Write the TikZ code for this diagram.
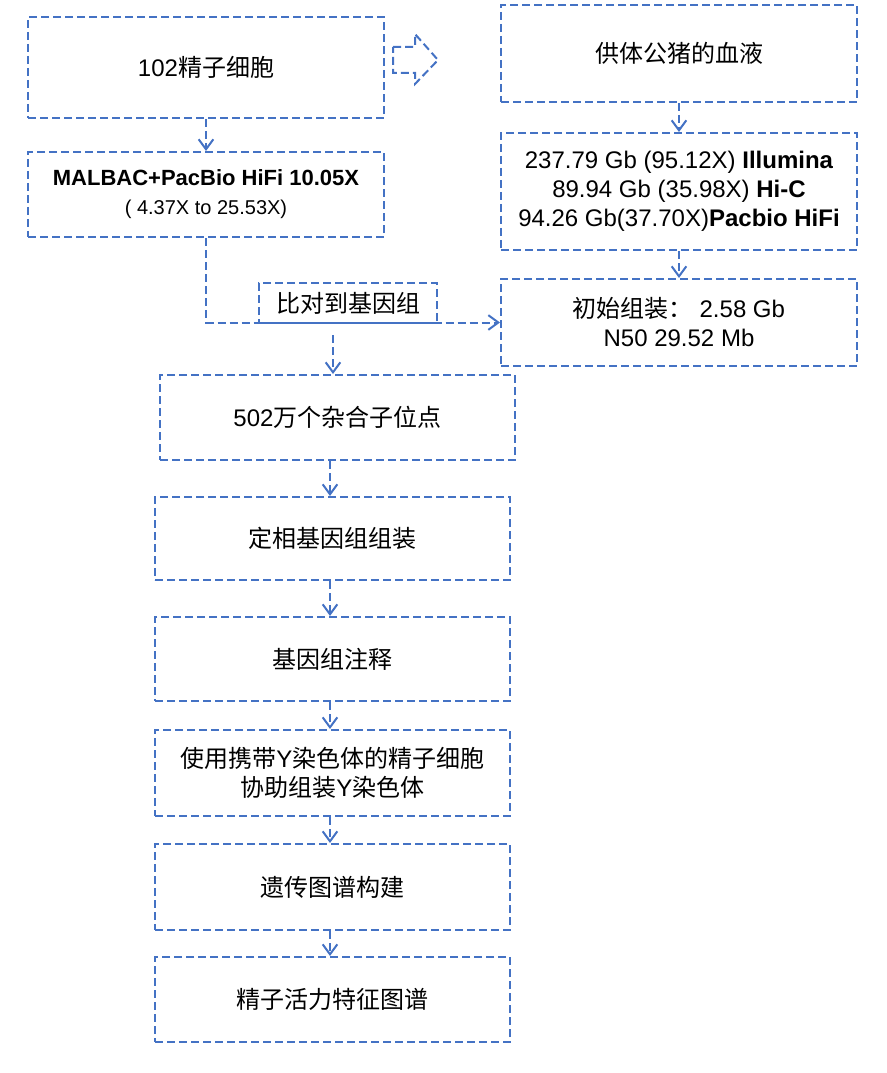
\documentclass[tikz,border=0pt]{standalone}
\usepackage{fontspec}
\setmainfont{Liberation Sans}
\newfontfamily\cjk{Noto Sans CJK SC}
\usetikzlibrary{arrows.meta}
\definecolor{flowblue}{HTML}{4472C4}
\def\px{0.75pt}
\tikzset{
  box/.style={draw=flowblue, line width=1.5pt, dash pattern=on 6pt off 3pt,
    minimum width=355*\px, align=center, inner sep=0pt,
    font=\fontsize{18}{21.75}\selectfont},
  tag/.style={box, minimum width=178*\px, minimum height=40*\px},
  arr/.style={draw=flowblue, line width=1.5pt, dash pattern=on 6pt off 3pt,
    -{Straight Barb[length=7.5pt,width=11pt,line width=1.5pt]}}
}
\begin{document}
\begin{tikzpicture}[x=\px, y=-\px]
  \useasboundingbox (0,0) rectangle (887,1073);
  % left column, top
  \node[box, minimum width=356*\px, minimum height=101*\px] (cells) at (206,67.5) {102{\cjk 精子细胞}};
  \node[box, minimum width=356*\px, minimum height=85*\px] (malbac) at (206,194.5)
    {\fontsize{16.5}{19.5}\selectfont\bfseries MALBAC+PacBio HiFi 10.05X\\
     \fontsize{15}{19.5}\selectfont ( 4.37X to 25.53X)};
  % right column
  \node[box, minimum width=356*\px, minimum height=97*\px] (blood) at (679,53.5) {\cjk 供体公猪的血液};
  \node[box, minimum width=356*\px, minimum height=117*\px] (seq) at (679,191.5)
    {237.79 Gb (95.12X) \textbf{Illumina}\\
     89.94 Gb (35.98X) \textbf{Hi-C}\\
     94.26 Gb(37.70X)\textbf{Pacbio HiFi}};
  \node[box, minimum width=356*\px, minimum height=87*\px] (draft) at (679,322.5)
    {{\cjk 初始组装：}\ 2.58 Gb\\N50 29.52 Mb};
  \node[tag] (map) at (348,303) {\cjk 比对到基因组};
  % left column, lower chain
  \node[box, minimum height=85*\px] (het) at (337.5,417.5) {502{\cjk 万个杂合子位点}};
  \node[box, minimum height=83*\px] (phase) at (332.5,538.5) {\cjk 定相基因组组装};
  \node[box, minimum height=84*\px] (annot) at (332.5,659) {\cjk 基因组注释};
  \node[box, minimum height=86*\px] (ychr) at (332.5,773)
    {{\cjk 使用携带}Y{\cjk 染色体的精子细胞}\\{\cjk 协助组装}Y{\cjk 染色体}};
  \node[box, minimum height=86*\px] (gmap) at (332.5,887) {\cjk 遗传图谱构建};
  \node[box, minimum height=85*\px] (motil) at (332.5,999.5) {\cjk 精子活力特征图谱};
  % hollow block arrow
  \draw[flowblue, line width=1.5pt, dash pattern=on 6pt off 3pt]
    (393,47) -- (415,47) -- (415,34) -- (438,60) -- (415,84) -- (415,73) -- (393,73) -- cycle;
  % connectors
  \coordinate (split) at (333,335);
  \coordinate (mid) at (330,0);
  \draw[arr] (cells) -- (malbac);
  \draw[arr] (blood) -- (seq);
  \draw[arr] (seq) -- (draft);
  \draw[arr] (malbac.south) |- (draft.west);
  \draw[arr] (split) -- (split |- het.north);
  \draw[arr] (het.south -| mid) -- (phase.north -| mid);
  \draw[arr] (phase.south -| mid) -- (annot.north -| mid);
  \draw[arr] (annot.south -| mid) -- (ychr.north -| mid);
  \draw[arr] (ychr.south -| mid) -- (gmap.north -| mid);
  \draw[arr] (gmap.south -| mid) -- (motil.north -| mid);
\end{tikzpicture}
\end{document}
